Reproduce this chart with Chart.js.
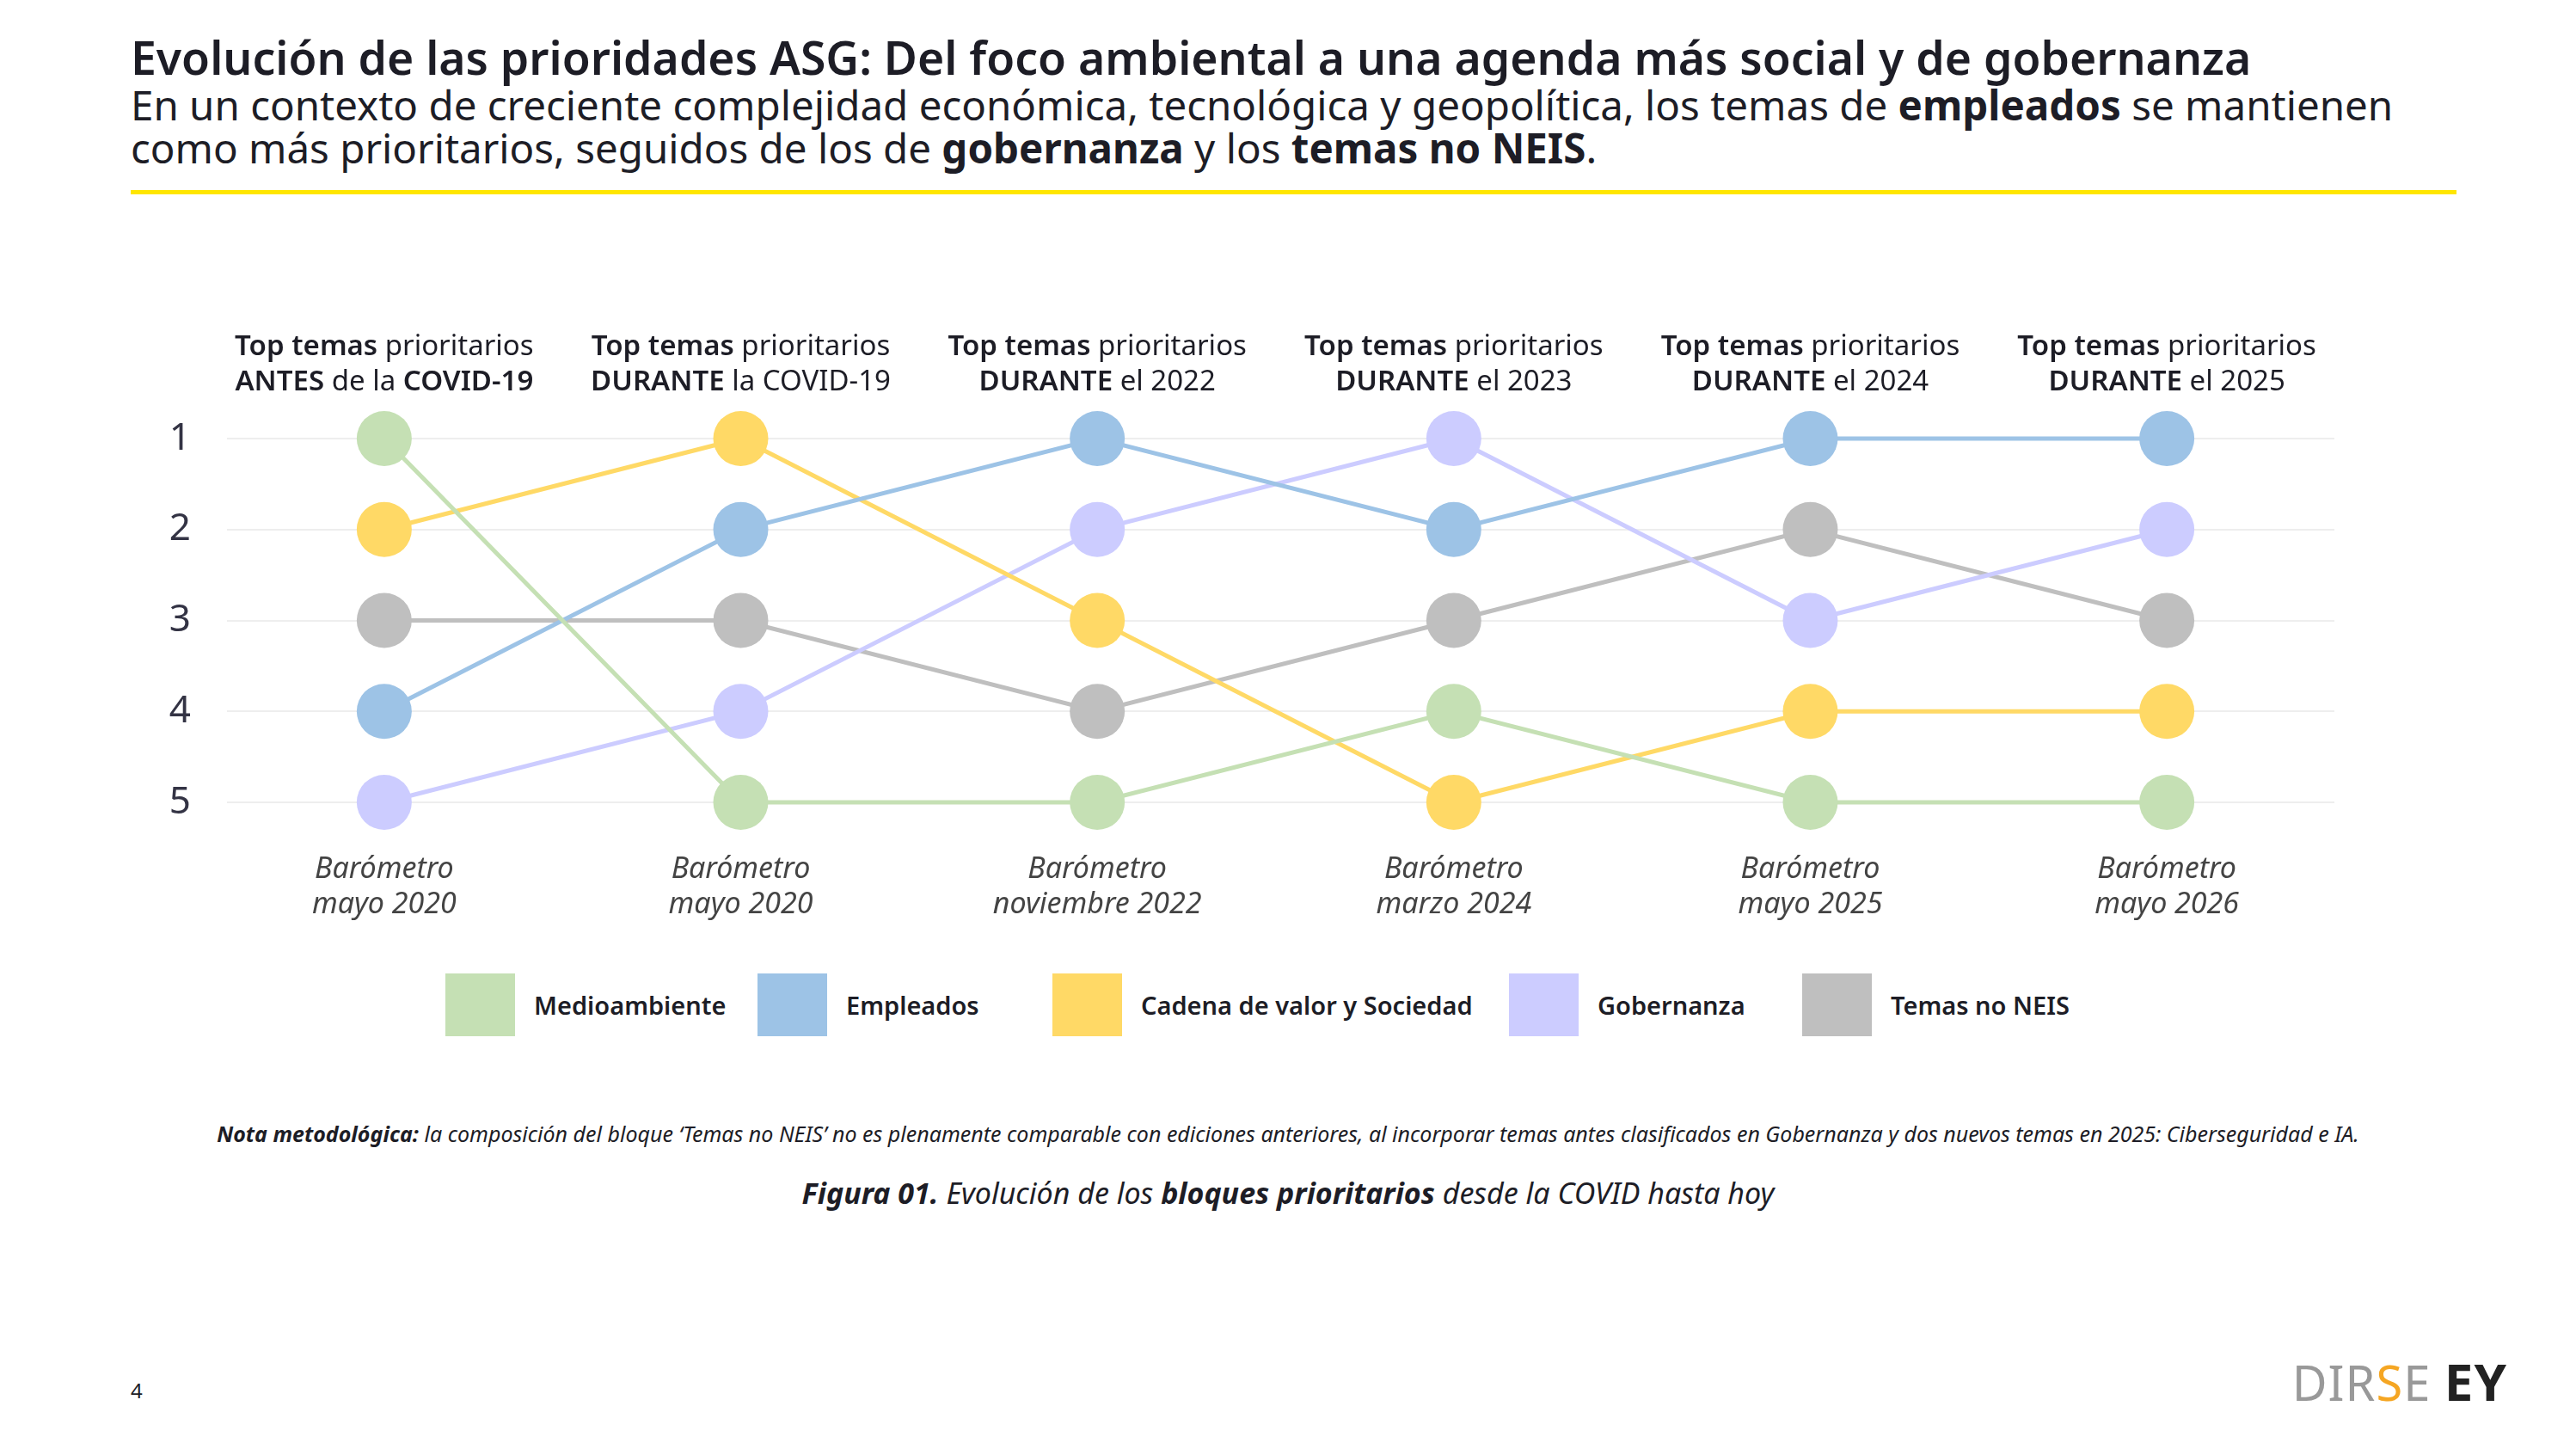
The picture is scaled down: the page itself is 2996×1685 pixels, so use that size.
<!DOCTYPE html>
<html><head><meta charset="utf-8">
<script src="https://cdn.jsdelivr.net/npm/chart.js@4.4.1/dist/chart.umd.min.js"></script>
<style>
body{margin:0;width:2996px;height:1685px;background:#fff;font-family:"Noto Sans",sans-serif;color:#1d1d26;position:relative;overflow:hidden}
.abs{position:absolute}
#title{left:152px;top:35px;font-size:53.5px;font-weight:600;line-height:64px;white-space:nowrap}
#sub{left:152px;top:97px;font-size:47.5px;line-height:50px;white-space:nowrap}
#rule{left:152px;top:221px;width:2705px;height:5px;background:#ffe600}
.lg{position:absolute;top:1132px;height:73px;display:flex;align-items:center;font-size:29px;font-weight:600}
.lg span{display:inline-block;width:81px;height:73px;margin-right:22px}
#note{left:0;width:2996px;top:1301px;text-align:center;font-size:25px;font-style:italic}
#fig{left:0;width:2996px;top:1364px;text-align:center;font-size:34px;font-style:italic}
#pg{left:152px;top:1600px;font-size:24px}
#logo{right:80px;top:1565px;font-size:56px;color:#999;letter-spacing:1px}
</style></head><body>
<div id="title" class="abs">Evolución de las prioridades ASG: Del foco ambiental a una agenda más social y de gobernanza</div>
<div id="sub" class="abs">En un contexto de creciente complejidad económica, tecnológica y geopolítica, los temas de <b>empleados</b> se mantienen<br>como más prioritarios, seguidos de los de <b>gobernanza</b> y los <b>temas no NEIS</b>.</div>
<div id="rule" class="abs"></div>
<canvas id="c" class="abs" width="2996" height="830" style="left:0;top:300px;width:2996px;height:830px"></canvas>
<div id="legend"></div>
<div id="note" class="abs"><b>Nota metodológica:</b> la composición del bloque ‘Temas no NEIS’ no es plenamente comparable con ediciones anteriores, al incorporar temas antes clasificados en Gobernanza y dos nuevos temas en 2025: Ciberseguridad e IA.</div>
<div id="fig" class="abs"><b>Figura 01.</b> Evolución de los <b>bloques prioritarios</b> desde la COVID hasta hoy</div>
<div id="pg" class="abs">4</div>
<div id="logo" class="abs">DIR<span style="color:#f5a623">S</span>E <b style="color:#222;font-size:60px">EY</b></div>
<script>
var bottomLabels = [['Barómetro','mayo 2020'],['Barómetro','mayo 2020'],['Barómetro','noviembre 2022'],['Barómetro','marzo 2024'],['Barómetro','mayo 2025'],['Barómetro','mayo 2026']];
var headerLine2 = [
  [['ANTES',1],[' de la ',0],['COVID-19',1]],
  [['DURANTE',1],[' la COVID-19',0]],
  [['DURANTE',1],[' el 2022',0]],
  [['DURANTE',1],[' el 2023',0]],
  [['DURANTE',1],[' el 2024',0]],
  [['DURANTE',1],[' el 2025',0]]
];
var seriesNames = ['Medioambiente','Empleados','Cadena de valor y Sociedad','Gobernanza','Temas no NEIS'];
var seriesColors = ['#c5e0b4','#9dc3e6','#ffd966','#ccccff','#bfbfbf'];
var medioambiente = [1,5,5,4,5,5];
var empleados = [4,2,1,2,1,1];
var cadena = [2,1,3,5,4,4];
var gobernanza = [5,4,2,1,3,2];
var temasNoNeis = [3,3,4,3,2,3];
var seriesValues = [medioambiente, empleados, cadena, gobernanza, temasNoNeis];
var rankTicks = [1,2,3,4,5];

var legendX = [518, 881, 1224, 1755, 2096];
var lg = document.getElementById('legend');
seriesNames.forEach(function(n, i){
  var d = document.createElement('div');
  d.className = 'lg'; d.style.left = legendX[i] + 'px';
  d.innerHTML = '<span style="background:' + seriesColors[i] + '"></span>' + n;
  lg.appendChild(d);
});

var datasets = [];
seriesValues.forEach(function(vals, i){
  var pts = vals.map(function(v, j){ return {x: j, y: v}; });
  datasets.push({data: pts, borderColor: seriesColors[i], borderWidth: 5, pointRadius: 0, order: 2, clip: false});
  datasets.push({data: pts, showLine: false, backgroundColor: seriesColors[i], pointBorderWidth: 0, pointRadius: 32, order: 1, clip: false});
});

var headerPlugin = {
  id: 'headers',
  afterDraw: function(chart){
    var ctx = chart.ctx, xs = chart.scales.x;
    ctx.save();
    ctx.fillStyle = '#1d1d26';
    ctx.textBaseline = 'middle';
    ctx.textAlign = 'left';
    var bold = '600 33px "Noto Sans"', reg = '400 33px "Noto Sans"';
    for (var i = 0; i < 6; i++) {
      var cx = xs.getPixelForValue(i);
      var lines = [[['Top temas',1],[' prioritarios',0]], headerLine2[i]];
      lines.forEach(function(segs, li){
        var w = 0;
        segs.forEach(function(s){ ctx.font = s[1] ? bold : reg; w += ctx.measureText(s[0]).width; });
        var x = cx - w / 2;
        segs.forEach(function(s){ ctx.font = s[1] ? bold : reg; ctx.fillText(s[0], x, 104 + li * 41); x += ctx.measureText(s[0]).width; });
      });
    }
    ctx.restore();
  }
};

new Chart(document.getElementById('c'), {
  type: 'line',
  data: {datasets: datasets},
  plugins: [headerPlugin],
  options: {
    responsive: false,
    animation: false,
    devicePixelRatio: 1,
    layout: {padding: {left: 0, right: 281, top: 210, bottom: 0}},
    plugins: {legend: {display: false}, tooltip: {enabled: false}},
    scales: {
      x: {
        type: 'linear', min: -0.441, max: 5.47,
        afterBuildTicks: function(s){ s.ticks = [0,1,2,3,4,5].map(function(v){ return {value: v}; }); },
        afterFit: function(s){ s.height = 197; },
        grid: {display: false}, border: {display: false},
        ticks: {
          padding: 50, color: '#444', autoSkip: false, maxRotation: 0, lineHeight: 1.2,
          font: {size: 34, style: 'italic', family: 'Noto Sans'},
          callback: function(v){ return bottomLabels[v]; }
        }
      },
      y: {
        reverse: true, min: 1, max: 5,
        afterBuildTicks: function(s){ s.ticks = rankTicks.map(function(v){ return {value: v}; }); },
        afterFit: function(s){ s.width = 264; },
        grid: {color: '#eeeeee', lineWidth: 2, drawTicks: false}, border: {display: false},
        ticks: {padding: 42, color: '#333344', font: {size: 44, family: 'Noto Sans'}}
      }
    }
  }
});
</script>
</body></html>
